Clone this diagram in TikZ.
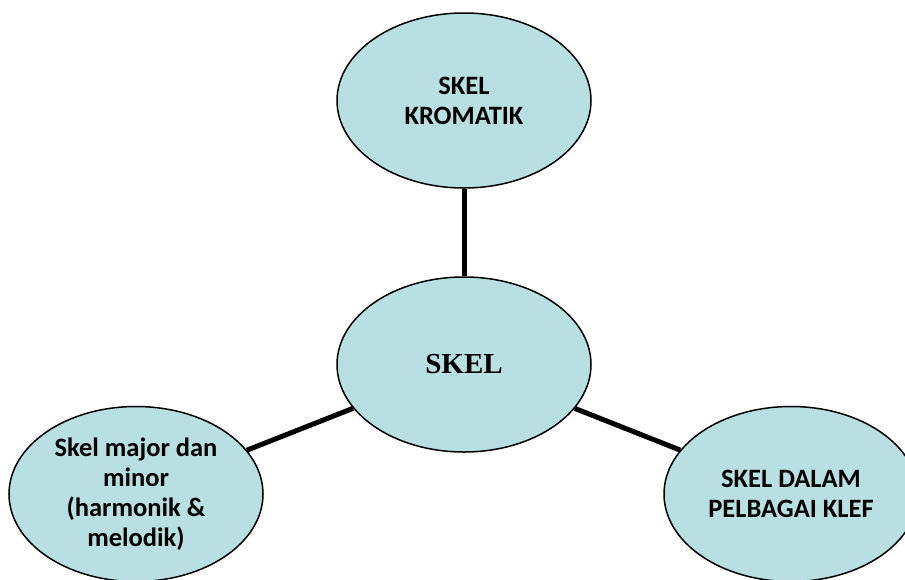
\documentclass[tikz,border=0pt]{standalone}
\usepackage{fontspec}
\setmainfont{Liberation Serif}
\newfontfamily\calibri{Carlito}
\usetikzlibrary{shapes.geometric}
\definecolor{cbubble}{HTML}{B8DFE2}
\tikzset{
  every picture/.style={line width=1.5pt},
  bubble/.style={ellipse, draw=black, fill=cbubble, line width=1.5pt, minimum width=254pt, minimum height=175pt, align=center, inner sep=0pt},
  leaf/.style={bubble, font=\calibri\bfseries\fontsize{26.5}{30}\selectfont},
  link/.style={draw=black, line width=5pt},
}

\begin{document}
\begin{tikzpicture}[x=1pt, y=-1pt]
  \clip (0, 0) rectangle (905, 579);
  \node[bubble, font=\bfseries\fontsize{29}{33}\selectfont] (skel) at (464, 364.5) {SKEL};
  \node[leaf] (kromatik) at (464, 100.5) {SKEL\\KROMATIK};
  \node[leaf] (major) at (136, 494) {Skel major dan\\minor\\(harmonik \&\\melodik)};
  \node[leaf] (klef) at (791, 494) {SKEL DALAM\\PELBAGAI KLEF};
  % connectors between the bubbles
  \draw[link] (skel) -- (kromatik);
  \draw[link] (skel) -- (major);
  \draw[link] (skel) -- (klef);
\end{tikzpicture}
\end{document}
